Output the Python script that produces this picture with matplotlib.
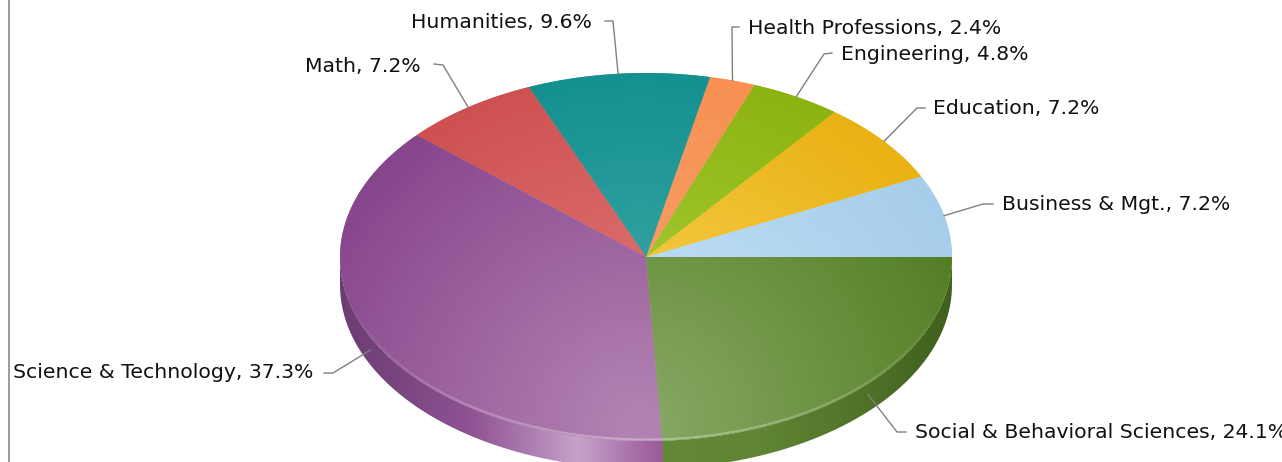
import numpy as np
import matplotlib
matplotlib.use("Agg")
import matplotlib.pyplot as plt
from matplotlib.path import Path
from matplotlib.patches import PathPatch
from matplotlib.collections import LineCollection
from matplotlib.colors import to_rgb

# Data, in drawing order (counter-clockwise from 3 o'clock)
categories = ["Business & Mgt.", "Education", "Engineering", "Health Professions",
              "Humanities", "Math", "Science & Technology", "Social & Behavioral Sciences"]
values = [7.2, 7.2, 4.8, 2.4, 9.6, 7.2, 37.3, 24.1]

# Styles
light_colors = ["#b9daf3", "#f2c63c", "#9ec52c", "#f89c62", "#30a0a0", "#da6a6a", "#b282b2", "#84a660"]
dark_colors = ["#a6cdea", "#e9b112", "#8cb30f", "#f79052", "#149090", "#ce5050", "#87458c", "#537e24"]
wall_xs = [340, 400, 470, 530, 578, 625, 662, 663, 760, 860, 952]
wall_cols = ["#6a3d72", "#7a4580", "#8f5293", "#ac7cb0", "#c6a4c9", "#ac78ae", "#9a5a9a",
             "#64883a", "#5f8535", "#507329", "#3f5f1c"]

# Layout (pixels)
W, H = 1282, 462
cx, cy, rx, ry, depth = 646, 257, 306, 184, 28
label_x = [1002, 933, 841, 748, 411, 305, 13, 915]
label_y = [204, 109, 55, 28, 22, 66, 373, 433]
leader_tip = [(993, 204), (925, 108), (832, 53), (739, 27), (605, 21), (434, 64), (324, 373), (906, 432)]
leader_elbow = [(983, 204), (917, 108), (824, 54), (732, 27), (613, 21), (443, 65), (333, 373), (897, 432)]
leader_drop = [0, 0, 0, 0, 0, 0, 13, 11]
FONT_SIZE = 14.7

fig = plt.figure(figsize=(W / 100, H / 100), dpi=100, facecolor="white")
ax = fig.add_axes([0, 0, 1, 1])
ax.set_xlim(0, W)
ax.set_ylim(H, 0)
ax.axis("off")


def pt(a, dy=0.0):
    return cx + rx * np.cos(a), cy - ry * np.sin(a) + dy


def hex_arr(c):
    return np.array(to_rgb(c))


# Side wall, behind the top face
fracs = np.cumsum([0] + values) / sum(values)
angles = 2 * np.pi * fracs
ys, xs = np.mgrid[0:H + 40, 0:W]
wall_rgb = np.stack([np.interp(xs + 0.5, wall_xs, [hex_arr(c)[i] for c in wall_cols]) for i in range(3)], axis=-1)
t = np.linspace(np.pi, 2 * np.pi, 300)
wx, wy = pt(t)
bx, by = pt(t[::-1], depth)
wall = PathPatch(Path(np.r_[np.c_[wx, wy], np.c_[bx, by], [[wx[0], wy[0]]]]), fc="none", ec="none")
ax.add_patch(wall)
im = ax.imshow(wall_rgb, extent=(0, W, H + 40, 0), interpolation="bilinear", aspect="auto", zorder=1)
im.set_clip_path(wall)

# Top face: each slice shaded by a radial gradient around a low highlight,
# normalised across the extent of that slice
dist = np.hypot(xs + 0.5 - 640, ys + 0.5 - 425)
for i in range(len(values)):
    a = np.linspace(angles[i], angles[i + 1], 120)
    px, py = pt(a)
    verts = np.r_[[[cx, cy]], np.c_[px, py], [[cx, cy]]]
    d = np.hypot(verts[:, 0] - 640, verts[:, 1] - 425)
    shade = np.clip((dist - d.min()) / (d.max() - d.min()), 0, 1)[..., None]
    patch = PathPatch(Path(verts), fc=light_colors[i], ec="none", zorder=2)
    ax.add_patch(patch)
    rgb = hex_arr(light_colors[i]) * (1 - shade) + hex_arr(dark_colors[i]) * shade
    m = ax.imshow(rgb, extent=(0, W, H + 40, 0), interpolation="bilinear", aspect="auto", zorder=3)
    m.set_clip_path(patch)
ax.set_xlim(0, W)
ax.set_ylim(H, 0)

# Pale rim highlight along the front edge
t = np.linspace(np.pi * 1.08, np.pi * 1.92, 300)
rxs = cx + (rx - 1.5) * np.cos(t)
rys = cy - (ry - 1.5) * np.sin(t)
segs = np.stack([np.c_[rxs[:-1], rys[:-1]], np.c_[rxs[1:], rys[1:]]], axis=1)
alpha = 0.32 * np.sin((t[:-1] - t[0]) / (t[-1] - t[0]) * np.pi) ** 1.2
ax.add_collection(LineCollection(segs, colors=[(1, 1, 1, v) for v in alpha], linewidths=1.5, zorder=4))

# Leaders and labels
mids = (angles[:-1] + angles[1:]) / 2
for i, name in enumerate(categories):
    ax_, ay_ = pt(mids[i], leader_drop[i])
    ax.plot([leader_tip[i][0], leader_elbow[i][0], ax_], [leader_tip[i][1], leader_elbow[i][1], ay_],
            color="#808080", lw=1.0, zorder=5, solid_joinstyle="round")
    ax.text(label_x[i], label_y[i], f"{name}, {values[i]}%", fontsize=FONT_SIZE, color="#111111",
            family="DejaVu Sans", ha="left", va="center", zorder=6, clip_on=True)

# Left frame line
ax.plot([9, 9], [0, H], color="#808080", lw=1.1, zorder=6)

fig.savefig("out.png", dpi=100, facecolor="white")
